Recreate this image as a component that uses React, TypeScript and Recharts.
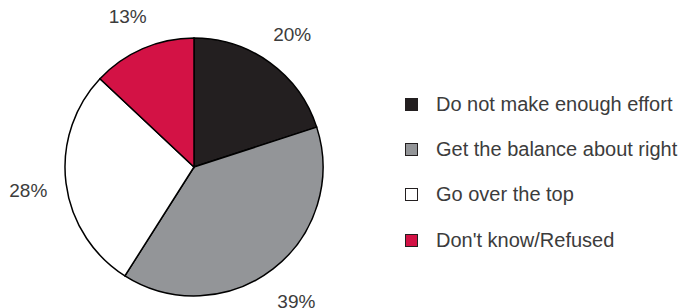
import { PieChart, Pie, Cell, Legend } from "recharts";

const categories = ["Do not make enough effort", "Get the balance about right", "Go over the top", "Don't know/Refused"];
const shares = [20, 39, 28, 13];
const colors = ["#231f20", "#939598", "#ffffff", "#d31245"];

const data = categories.map((name, i) => ({ name, value: shares[i] }));

const RAD = Math.PI / 180;
const FONT = "'Liberation Sans', Arial, sans-serif";

function renderLabel(props: any) {
  const { cx, cy, midAngle, outerRadius, value } = props;
  const r = outerRadius + 38;
  const x = cx + r * Math.cos(-midAngle * RAD);
  const y = cy + r * Math.sin(-midAngle * RAD) + 3;
  return (
    <text x={x} y={y} textAnchor="middle" dominantBaseline="central" fill="#3c3c3c" fontSize={19} fontFamily={FONT}>
      {value}%
    </text>
  );
}

function LegendBox() {
  return (
    <div style={{ fontFamily: FONT }}>
      {data.map((d, i) => (
        <div key={d.name} style={{ display: "flex", alignItems: "center", height: 45.3 }}>
          <div style={{ width: 11, height: 11, background: colors[i], border: "1.5px solid #231f20", marginRight: 18 }} />
          <span style={{ fontSize: 20, color: "#3c3c3c", whiteSpace: "nowrap" }}>{d.name}</span>
        </div>
      ))}
    </div>
  );
}

export default function App() {
  return (
    <div style={{ position: "absolute", left: 0, top: 0, width: 678, height: 308, background: "#fff" }}>
      <PieChart width={678} height={308} margin={{ top: 0, right: 0, bottom: 0, left: 0 }}>
        <Pie
          data={data}
          dataKey="value"
          cx={194}
          cy={167}
          outerRadius={129}
          startAngle={90}
          endAngle={-270}
          stroke="#000"
          strokeWidth={1.5}
          label={renderLabel}
          labelLine={false}
          isAnimationActive={false}
        >
          {data.map((d, i) => (
            <Cell key={d.name} fill={colors[i]} />
          ))}
        </Pie>
        <Legend content={() => <LegendBox />} wrapperStyle={{ left: 405, top: 81.5, width: 280 }} />
      </PieChart>
    </div>
  );
}
